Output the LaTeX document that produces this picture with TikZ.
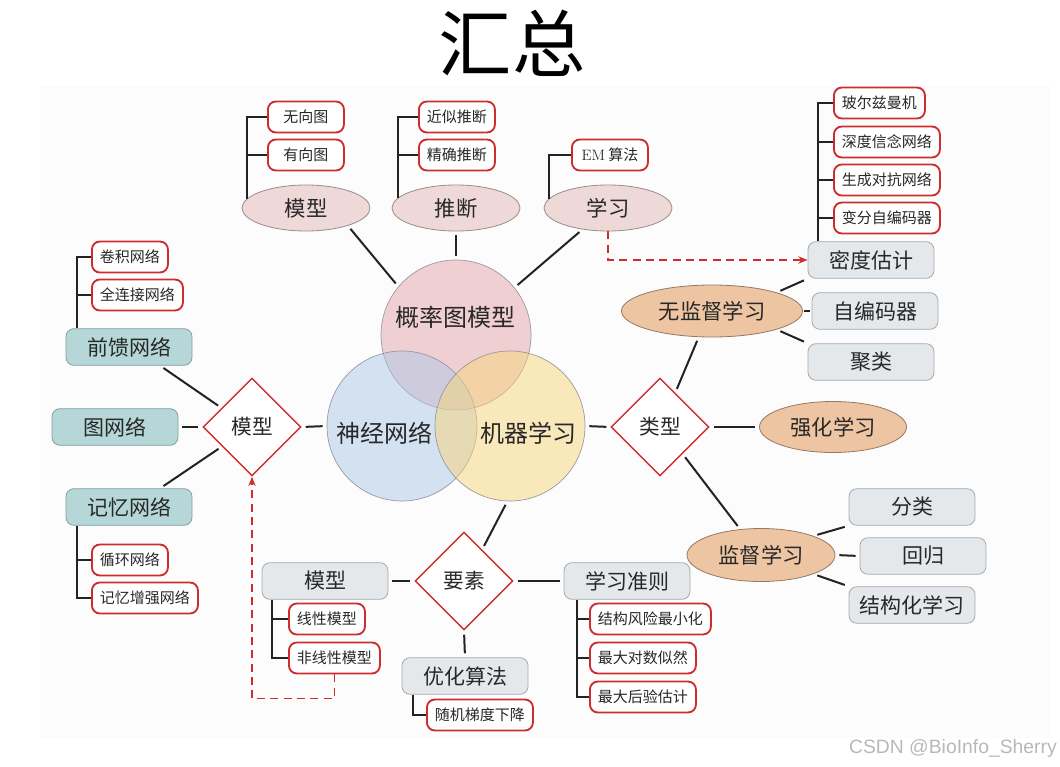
\documentclass[tikz,border=0pt]{standalone}
\usepackage{fontspec}
\newfontfamily\cjk{Noto Sans CJK SC}
\newfontfamily\wmfont{Liberation Sans}
\usetikzlibrary{shapes.geometric,arrows.meta}
\definecolor{redc}{RGB}{205,45,45}
\definecolor{linec}{RGB}{35,35,35}
\definecolor{textc}{RGB}{40,40,40}
\definecolor{grayf}{RGB}{229,232,235}
\definecolor{grayb}{RGB}{165,170,175}
\definecolor{tealf}{RGB}{181,215,215}
\definecolor{tealb}{RGB}{130,160,160}
\definecolor{pinkf}{RGB}{238,216,216}
\definecolor{pinkb}{RGB}{155,140,140}
\definecolor{orf}{RGB}{238,197,162}
\definecolor{orb}{RGB}{150,120,100}
\definecolor{pinkv}{RGB}{230,163,172}
\definecolor{bluev}{RGB}{172,200,230}
\definecolor{yelv}{RGB}{247,213,122}
\definecolor{vennb}{RGB}{150,150,160}
\begin{document}
\begin{tikzpicture}[x=0.75pt,y=-0.75pt,
  conn/.style={draw=linec, line width=1.5pt, shorten <=3pt, shorten >=3pt},
  tree/.style={draw=linec, line width=1.5pt},
  redbox/.style={draw=redc, line width=1.4pt, fill=white, rounded corners=6pt,
    minimum height=23.25pt, minimum width=57pt, inner xsep=6pt, inner ysep=0pt,
    font=\cjk\fontsize{11.25}{13}\selectfont, text=textc, anchor=west},
  graybox/.style={draw=grayb, line width=0.6pt, fill=grayf, rounded corners=6pt,
    minimum width=94.5pt, minimum height=27.5pt, inner sep=0pt,
    font=\cjk\fontsize{15.75}{18}\selectfont, text=textc},
  tealbox/.style={graybox, fill=tealf, draw=tealb},
  pinkell/.style={ellipse, draw=pinkb, line width=0.6pt, fill=pinkf,
    minimum width=96pt, minimum height=34.5pt, inner sep=0pt,
    font=\cjk\fontsize{16}{19}\selectfont, text=textc},
  orell/.style={ellipse, draw=orb, line width=0.6pt, fill=orf, inner sep=0pt,
    font=\cjk\fontsize{16}{19}\selectfont, text=textc},
  diam/.style={diamond, draw=redc, line width=1.1pt, fill=white,
    minimum width=73.5pt, minimum height=73.5pt, inner sep=0pt,
    font=\cjk\fontsize{15.5}{18}\selectfont, text=textc},
  venn/.style={circle, minimum size=112.5pt, inner sep=0pt, draw=vennb,
    line width=0.5pt, fill opacity=0.5},
  venntxt/.style={font=\cjk\fontsize{18}{21}\selectfont, text=textc, inner sep=0pt},
  reddash/.style={draw=redc, line width=1.1pt, dash pattern=on 6pt off 4pt,
    -{Stealth[length=7pt,width=5.5pt]}}
]
\useasboundingbox (0,0) rectangle (1060,767);
\fill[black!1] (40,86) rectangle (1050,738);

% title
\node[font=\cjk\fontsize{55}{60}\selectfont, text=black, inner sep=0pt] (title) at (512,43) {汇总};

% Venn circles
\node[venn, fill=pinkv] (pc) at (456,335) {};
\node[venn, fill=bluev] (bc) at (402,426) {};
\node[venn, fill=yelv] (yc) at (510,426) {};
\node[venntxt] (pct) at (455,317) {概率图模型};
\node[venntxt] (bct) at (384,433) {神经网络};
\node[venntxt] (yct) at (528,433) {机器学习};

% top ellipses
\node[pinkell] (mod) at (306,208) {模型};
\node[pinkell] (inf) at (456,208) {推断};
\node[pinkell] (lrn) at (608,208) {学习};
\node[redbox] (uig) at (267,117) {无向图};
\node[redbox] (dig) at (267,155) {有向图};
\node[redbox] (apx) at (418,117) {近似推断};
\node[redbox] (ext) at (418,155) {精确推断};
\node[redbox] (em) at (571,155) {{\rmfamily EM} 算法};
\draw[tree] (uig.west) -| (mod.171);
\draw[tree] (dig.west) -- (dig.west -| mod.171);
\draw[tree] (apx.west) -| (inf.170);
\draw[tree] (ext.west) -- (ext.west -| inf.170);
\draw[tree] (em.west) -| (lrn.171);

% left group
\node[tealbox] (ff) at (129,347) {前馈网络};
\node[tealbox] (gn) at (115,427) {图网络};
\node[tealbox] (mem) at (129,507) {记忆网络};
\node[diam] (dm1) at (252,427) {模型};
\node[redbox] (cnn) at (91,257) {卷积网络};
\node[redbox] (fc) at (91,295) {全连接网络};
\node[redbox] (rnn) at (91,560) {循环网络};
\node[redbox] (mann) at (91,598) {记忆增强网络};
\coordinate (ffv) at ([xshift=8.25pt]ff.north west);
\coordinate (memv) at ([xshift=8.25pt]mem.south west);
\draw[tree] (cnn.west) -| (ffv);
\draw[tree] (fc.west) -- (fc.west -| ffv);
\draw[tree] (memv) |- (mann.west);
\draw[tree] (rnn.west) -- (rnn.west -| memv);

% bottom group
\node[diam] (dm3) at (464,581) {要素};
\node[graybox] (bm) at (325,581) {模型};
\node[graybox] (crit) at (627,581) {学习准则};
\node[graybox] (opt) at (465,676) {优化算法};
\node[redbox] (lm) at (288,619) {线性模型};
\node[redbox] (nlm) at (288,658) {非线性模型};
\node[redbox] (srm) at (589,619) {结构风险最小化};
\node[redbox] (mle) at (589,658) {最大对数似然};
\node[redbox] (map) at (589,697) {最大后验估计};
\node[redbox] (sgd) at (426,715) {随机梯度下降};
\coordinate (bmv) at ([xshift=7.5pt]bm.south west);
\coordinate (critv) at ([xshift=9.75pt]crit.south west);
\coordinate (optv) at ([xshift=8.25pt]opt.south west);
\draw[tree] (bmv) |- (nlm.west);
\draw[tree] (lm.west) -- (lm.west -| bmv);
\draw[tree] (critv) |- (map.west);
\draw[tree] (srm.west) -- (srm.west -| critv);
\draw[tree] (mle.west) -- (mle.west -| critv);
\draw[tree] (optv) |- (sgd.west);

% right group
\node[diam] (dm2) at (660,427) {类型};
\node[orell, minimum width=135.75pt, minimum height=39pt] (unsup) at (712,311) {无监督学习};
\node[orell, minimum width=110.25pt, minimum height=38.25pt] (rl) at (833,427) {强化学习};
\node[orell, minimum width=111pt, minimum height=39.75pt] (sup) at (761,555) {监督学习};
\node[graybox] (dens) at (871,260) {密度估计};
\node[graybox] (ae) at (875,311) {自编码器};
\node[graybox] (clus) at (871,362) {聚类};
\node[graybox] (cls) at (912,507) {分类};
\node[graybox] (reg) at (923,556) {回归};
\node[graybox] (strl) at (912,605) {结构化学习};
\node[redbox] (bolt) at (833,103) {玻尔兹曼机};
\node[redbox] (dbn) at (833,142) {深度信念网络};
\node[redbox] (gan) at (833,180) {生成对抗网络};
\node[redbox] (vae) at (833,218) {变分自编码器};
\coordinate (densv) at ([xshift=7.5pt]dens.north west);
\draw[tree] (bolt.west) -| (densv);
\draw[tree] (dbn.west) -- (dbn.west -| densv);
\draw[tree] (gan.west) -- (gan.west -| densv);
\draw[tree] (vae.west) -- (vae.west -| densv);

% main connectors
\draw[conn] (mod.-23) -- (pc.140);
\draw[conn] (inf.south) -- (pc.north);
\draw[conn] (lrn.220) -- (pc.39);
\draw[conn] (ff.-31) -- (dm1.148);
\draw[conn] (gn.east) -- (dm1.west);
\draw[conn] (mem.31) -- (dm1.-147);
\draw[conn] (dm1.east) -- (bc.west);
\draw[conn] (yc.east) -- (dm2.west);
\draw[conn] (dm2.66) -- (unsup.243);
\draw[conn] (dm2.east) -- (rl.west);
\draw[conn] (dm2.-50) -- (sup.129);
\draw[conn] (unsup.16) -- (dens.south west);
\draw[conn, shorten <=0.5pt, shorten >=1.5pt] (unsup.east) -- (ae.west);
\draw[conn] (unsup.-16) -- (clus.north west);
\draw[conn] (sup.20) -- (cls.south west);
\draw[conn] (sup.east) -- (reg.west);
\draw[conn] (sup.-20) -- (strl.north west);
\draw[conn] (yc.268) -- (dm3.60);
\draw[conn] (bm.east) -- (dm3.west);
\draw[conn] (dm3.east) -- (crit.west);
\draw[conn] (dm3.south) -- (opt.north);

% dashed arrows
\draw[reddash] (lrn.south) |- (dens.west);
\draw[reddash] (nlm.south) -- ++(0,24) -| (dm1.south);

% watermark
\node[font=\wmfont\fontsize{14.5}{16}\selectfont, text=black!28, anchor=east, inner sep=0pt] (wm) at (1057,748) {CSDN @BioInfo\_Sherry};
\end{tikzpicture}
\end{document}
